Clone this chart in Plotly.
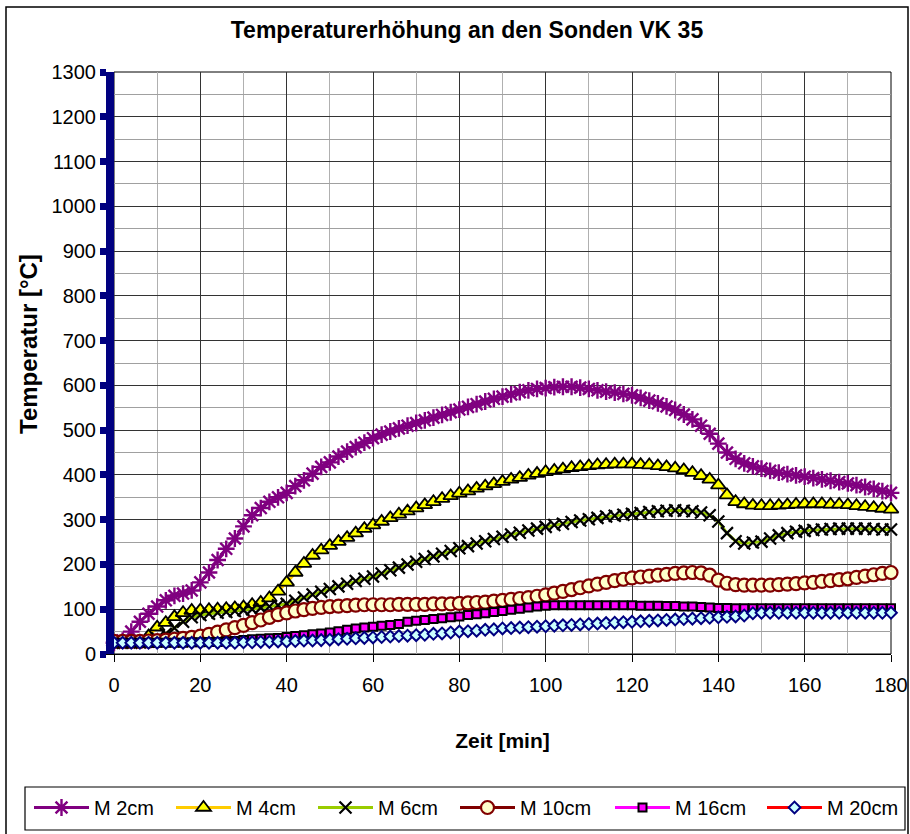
import plotly.graph_objects as go

zeit = list(range(0, 182, 2))

m2 = [25, 30, 50, 72, 90, 106, 120, 130, 135, 142, 160, 182, 210, 235, 258, 285, 310, 326, 340, 350,
      360, 375, 388, 403, 418, 428, 441, 452, 462, 472, 482, 490, 497, 504, 510, 516, 522, 528, 534, 540,
      546, 552, 558, 564, 570, 575, 580, 585, 589, 592, 594, 596, 597, 597, 595, 592, 589, 586, 584, 581,
      578, 572, 566, 560, 553, 545, 535, 524, 510, 492, 470, 450, 436, 426, 419, 414, 409, 405, 402, 399,
      396, 393, 390, 387, 384, 381, 377, 373, 369, 364, 360]

m4 = [25, 25, 26, 28, 40, 60, 70, 83, 92, 97, 98, 99, 100, 101, 103, 105, 110, 115, 125, 140,
      160, 182, 202, 220, 232, 242, 251, 260, 270, 280, 288, 296, 304, 312, 319, 326, 333, 340, 347, 353,
      359, 364, 370, 375, 380, 385, 390, 394, 399, 403, 407, 410, 413, 416, 418, 420, 422, 423, 424, 424,
      424, 423, 422, 420, 418, 415, 411, 405, 398, 390, 377, 355, 340, 335, 332, 331, 331, 332, 333, 334,
      335, 335, 335, 334, 334, 333, 331, 329, 327, 325, 323]

m6 = [25, 25, 25, 26, 28, 35, 45, 58, 72, 82, 87, 90, 92, 94, 96, 98, 100, 103, 106, 109,
      112, 119, 126, 133, 139, 145, 151, 157, 163, 168, 173, 180, 187, 193, 200, 206, 212, 218, 224, 230,
      236, 241, 247, 252, 257, 262, 267, 271, 276, 280, 284, 288, 291, 295, 298, 301, 304, 307, 309, 311,
      313, 315, 317, 319, 320, 321, 320, 319, 316, 310, 296, 270, 252, 247, 249, 251, 258, 265, 270, 273,
      275, 277, 278, 279, 280, 280, 280, 280, 279, 278, 278]

m10 = [28, 28, 28, 28, 29, 30, 31, 33, 35, 37, 40, 44, 49, 54, 59, 64, 70, 76, 82, 88,
       92, 96, 99, 102, 104, 106, 107, 108, 109, 110, 110, 110, 110, 111, 111, 111, 111, 112, 112, 112,
       113, 114, 115, 116, 118, 120, 122, 124, 126, 129, 132, 136, 140, 144, 148, 152, 156, 160, 164, 167,
       170, 172, 174, 176, 178, 180, 181, 182, 181, 176, 165, 158, 155, 154, 154, 154, 154, 155, 156, 157,
       159, 160, 162, 164, 166, 168, 171, 174, 177, 180, 182]

m16 = [25, 25, 25, 25, 25, 25, 25, 25, 25, 26, 26, 27, 27, 28, 29, 31, 33, 34, 35, 36,
       38, 40, 42, 44, 46, 48, 51, 54, 57, 59, 61, 63, 65, 67, 72, 74, 76, 78, 80, 82,
       84, 87, 89, 91, 94, 96, 99, 101, 104, 106, 108, 109, 109, 109, 109, 109, 109, 109, 109, 109,
       109, 108, 108, 108, 107, 107, 106, 106, 105, 104, 103, 103, 102, 102, 102, 102, 102, 102, 102, 102,
       102, 102, 102, 102, 102, 102, 102, 102, 102, 102, 102]

m20 = [25, 25, 25, 25, 25, 25, 25, 25, 25, 25, 25, 25, 25, 25, 25, 26, 26, 27, 27, 28,
       28, 29, 30, 30, 31, 32, 33, 34, 35, 36, 37, 38, 39, 40, 41, 42, 43, 45, 46, 48,
       50, 51, 52, 54, 55, 57, 58, 59, 60, 61, 62, 63, 64, 65, 66, 67, 68, 69, 70, 71,
       72, 73, 74, 75, 76, 77, 78, 79, 80, 81, 82, 83, 84, 86, 91, 92, 92, 92, 92, 92,
       92, 92, 92, 92, 92, 92, 92, 92, 92, 92, 92]

x_ticks = [0, 20, 40, 60, 80, 100, 120, 140, 160, 180]
y_ticks = list(range(0, 1400, 100))

FONT = "Liberation Sans, Arial, sans-serif"
W, H = 910, 834
L, R, T, B = 114, 19, 72, 180
PW, PH = W - L - R, H - T - B

series = [
    ("M 2cm", m2, "#800080", dict(symbol="asterisk-open", size=14, color="#800080", line=dict(color="#800080", width=2.4)), "legend"),
    ("M 4cm", m4, "#FFCC00", dict(symbol="triangle-up", size=13, color="#FFFF00", line=dict(color="#000000", width=1.8)), "legend"),
    ("M 6cm", m6, "#99CC00", dict(symbol="x-thin-open", size=12, color="#000000", line=dict(color="#000000", width=2.2)), "legend"),
    ("M 10cm", m10, "#800000", dict(symbol="circle", size=13, color="#FFFFCC", line=dict(color="#800000", width=2.2)), "legend2"),
    ("M 16cm", m16, "#FF00FF", dict(symbol="square", size=8, color="#FF00FF", line=dict(color="#000000", width=2)), "legend2"),
    ("M 20cm", m20, "#FF0000", dict(symbol="diamond", size=9, color="#CCFFFF", line=dict(color="#000080", width=2)), "legend3"),
]

fig = go.Figure()
for name, vals, col, mk, lg in series:
    fig.add_trace(go.Scatter(x=zeit, y=vals, name=name, mode="lines+markers", legend=lg,
                             line=dict(color=col, width=3), marker=mk, cliponaxis=False))

leg_common = dict(orientation="h", xref="container", yref="container", xanchor="left",
                  y=1 - 788 / H, yanchor="top", borderwidth=0, bgcolor="rgba(0,0,0,0)",
                  font=dict(size=20, family=FONT), itemwidth=55, tracegroupgap=0)

fig.update_layout(
    width=W, height=H, autosize=False,
    margin=dict(l=L, r=R, t=T, b=B, autoexpand=False),
    paper_bgcolor="white", plot_bgcolor="white",
    font=dict(family=FONT, size=20, color="black"),
    title=dict(text="<b>Temperaturerhöhung an den Sonden VK 35</b>", x=467 / W, xanchor="center",
               y=1 - 30 / H, yanchor="middle", font=dict(size=23, family=FONT)),
    showlegend=True,
    legend=dict(x=29 / W, entrywidth=72, **leg_common),
    legend2=dict(x=455 / W, entrywidth=85, **leg_common),
    legend3=dict(x=762 / W, entrywidth=78, **leg_common),
)

fig.update_xaxes(range=[0, 180], tickvals=x_ticks, ticks="outside", ticklen=7, tickcolor="black",
                 showline=True, linecolor="black", linewidth=1,
                 showgrid=True, gridcolor="#333333", gridwidth=1,
                 minor=dict(dtick=10, showgrid=True, gridcolor="#b0b0b0", gridwidth=1),
                 zeroline=False, tickfont=dict(size=20), ticklabelstandoff=6,
                 title=dict(text="<b>Zeit [min]</b>", font=dict(size=21), standoff=38))
fig.update_yaxes(range=[0, 1300], tickvals=y_ticks, ticks="outside", ticklen=6, tickwidth=7,
                 tickcolor="#000080", showline=True, linecolor="#000080", linewidth=8,
                 showgrid=True, gridcolor="#333333", gridwidth=1,
                 minor=dict(dtick=50, showgrid=True, gridcolor="#a0a0a0", gridwidth=1),
                 zeroline=False, tickfont=dict(size=20))

# y-axis title as rotated annotation (placed slightly above plot centre as in reference)
fig.add_annotation(text="<b>Temperatur [°C]</b>", xref="paper", yref="paper",
                   x=(28 - L) / PW, y=(H - B - 344) / PH, textangle=-90, showarrow=False,
                   xanchor="center", yanchor="middle", font=dict(size=24, family=FONT))

# plot-area border (top/right)
fig.add_shape(type="rect", xref="paper", yref="paper", x0=0, x1=1, y0=0, y1=1,
              line=dict(color="black", width=1), layer="below")
# outer chart frame
fig.add_shape(type="rect", xref="paper", yref="paper", x0=(6 - L) / PW, x1=(908 - L) / PW,
              y0=-0.33, y1=(H - B - 7) / PH, line=dict(color="black", width=1.5), layer="below")
# legend frame
fig.add_shape(type="rect", xref="paper", yref="paper", x0=(25 - L) / PW, x1=(905 - L) / PW,
              y0=(H - B - 830) / PH, y1=(H - B - 787) / PH, line=dict(color="black", width=1.2), layer="below")

fig.write_html("out.html", config={"displayModeBar": False, "responsive": False},
               post_script="document.body.style.margin='0';")
